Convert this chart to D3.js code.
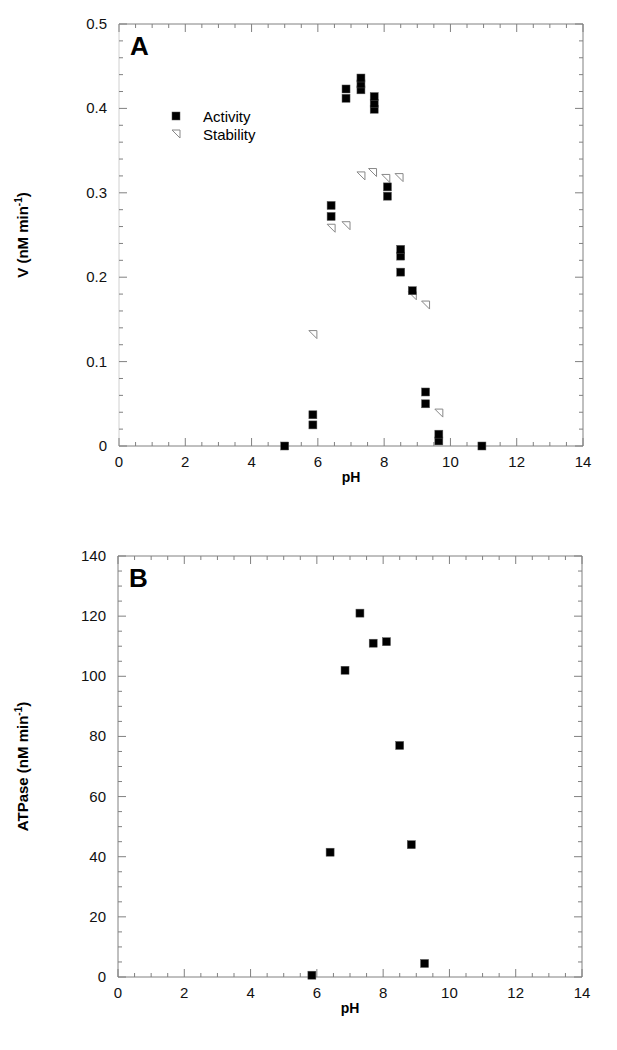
<!DOCTYPE html>
<html>
<head>
<meta charset="utf-8">
<script src="https://cdn.jsdelivr.net/npm/d3@7"></script>
<style>
  body { margin: 0; background: #fff; }
  svg { font-family: "Liberation Sans", Arial, sans-serif; }
</style>
</head>
<body>
<div id="chart"></div>
<script>
// panel A - activity (black squares)
const actPH = [5.0, 5.85, 5.85, 6.4, 6.4, 6.85, 6.85, 7.3, 7.3, 7.3, 7.7, 7.7, 7.7,
  8.1, 8.1, 8.5, 8.5, 8.5, 8.85, 9.25, 9.25, 9.65, 9.65, 10.95];
const actV = [0, 0.025, 0.037, 0.272, 0.285, 0.412, 0.423, 0.422, 0.429, 0.436, 0.399, 0.406, 0.414,
  0.296, 0.307, 0.206, 0.225, 0.233, 0.184, 0.050, 0.064, 0.006, 0.014, 0];

// panel A - stability (open triangles)
const stabPH = [5.85, 6.4, 6.85, 7.3, 7.65, 8.05, 8.45, 8.85, 9.25, 9.65];
const stabV = [0.132, 0.258, 0.261, 0.320, 0.324, 0.317, 0.318, 0.178, 0.167, 0.039];

// panel B - ATPase
const atpPH = [5.85, 6.4, 6.85, 7.3, 7.7, 8.1, 8.5, 8.85, 9.25];
const atpV = [0.6, 41.5, 102, 121, 111, 111.5, 77, 44, 4.5];

const xTicks = [0, 2, 4, 6, 8, 10, 12, 14];
const yTicksA = [0, 0.1, 0.2, 0.3, 0.4, 0.5];
const yTicksB = [0, 20, 40, 60, 80, 100, 120, 140];

const W = 617, H = 1050;
const axisColor = "#808080";

const svg = d3.select("#chart").append("svg")
  .attr("width", W).attr("height", H);

function panel(opt) {
  const x = d3.scaleLinear().domain([0, 14]).range(opt.xr);
  const y = d3.scaleLinear().domain(opt.yd).range(opt.yr);
  const g = svg.append("g");

  const x0 = opt.xr[0], x1 = opt.xr[1], y0 = opt.yr[0], y1 = opt.yr[1];

  // frame
  g.append("line").attr("x1", x0).attr("x2", x1).attr("y1", y0).attr("y2", y0)
    .attr("stroke", axisColor);
  g.append("line").attr("x1", x0).attr("x2", x1).attr("y1", y1).attr("y2", y1)
    .attr("stroke", axisColor);
  g.append("line").attr("x1", x1).attr("x2", x1).attr("y1", y0).attr("y2", y1)
    .attr("stroke", axisColor);
  g.append("line").attr("x1", x0).attr("x2", x0).attr("y1", y0).attr("y2", y1)
    .attr("stroke", opt.leftColor || axisColor);

  // ticks, all pointing inward
  const xMinor = d3.range(0, 14.01, 0.5);
  xMinor.forEach(v => {
    const major = xTicks.includes(v);
    const len = major ? 8 : 4;
    [[y0, -1], [y1, 1]].forEach(([yy, dir]) => {
      g.append("line").attr("x1", x(v)).attr("x2", x(v))
        .attr("y1", yy).attr("y2", yy + dir * len)
        .attr("stroke", axisColor);
    });
  });
  const yMinor = d3.range(opt.yd[0], opt.yd[1] + opt.yStep / 2, opt.yStep);
  yMinor.forEach(v => {
    const major = opt.yTicks.some(t => Math.abs(t - v) < opt.yStep / 10);
    const len = major ? 8 : 4;
    [[x0, 1], [x1, -1]].forEach(([xx, dir]) => {
      g.append("line").attr("x1", xx).attr("x2", xx + dir * len)
        .attr("y1", y(v)).attr("y2", y(v))
        .attr("stroke", axisColor);
    });
  });

  // tick labels
  g.selectAll(".xl").data(xTicks).enter().append("text")
    .attr("x", d => x(d)).attr("y", y0 + 21)
    .attr("text-anchor", "middle").attr("font-size", 15).attr("fill", "#111")
    .text(d => d);
  g.selectAll(".yl").data(opt.yTicks).enter().append("text")
    .attr("x", x0 - 12).attr("y", d => y(d) + 5)
    .attr("text-anchor", "end").attr("font-size", 15).attr("fill", "#111")
    .text(d => d);

  // axis titles
  g.append("text").attr("x", (x0 + x1) / 2).attr("y", y0 + 36)
    .attr("text-anchor", "middle").attr("font-size", 14).attr("font-weight", "bold")
    .text("pH");
  const yt = g.append("text")
    .attr("transform", `translate(28,${(y0 + y1) / 2}) rotate(-90)`)
    .attr("text-anchor", "middle").attr("font-size", 15).attr("font-weight", "bold");
  yt.append("tspan").text(opt.yTitle + " (nM min");
  yt.append("tspan").attr("font-size", 10).attr("dy", -6).text("-1");
  yt.append("tspan").attr("dy", 6).text(")");

  // panel letter
  g.append("text").attr("x", x0 + 11).attr("y", y1 + 31)
    .attr("font-size", 26).attr("font-weight", "bold").text(opt.letter);

  return { g, x, y };
}

function square(g, cx, cy) {
  g.append("rect").attr("x", cx - 4).attr("y", cy - 4)
    .attr("width", 8).attr("height", 8)
    .attr("fill", "#000").attr("stroke", "#555").attr("stroke-width", 0.5);
}

function triangle(g, cx, cy) {
  const s = 4;
  g.append("path")
    .attr("d", `M${cx - s},${cy - s}L${cx + s},${cy - s}L${cx + s},${cy + s}Z`)
    .attr("fill", "#fff").attr("stroke", "#888").attr("stroke-width", 1);
}

// Panel A
const A = panel({
  xr: [119, 583], yd: [0, 0.5], yr: [446, 24], yStep: 0.02,
  yTicks: yTicksA, yTitle: "V", letter: "A", leftColor: "#d0d0d0"
});
stabPH.forEach((p, i) => triangle(A.g, A.x(p), A.y(stabV[i])));
actPH.forEach((p, i) => square(A.g, A.x(p), A.y(actV[i])));

// legend
square(A.g, 176, 116);
triangle(A.g, 176, 134);
A.g.append("text").attr("x", 203).attr("y", 122).attr("font-size", 15).text("Activity");
A.g.append("text").attr("x", 203).attr("y", 140).attr("font-size", 15).text("Stability");

// Panel B
const B = panel({
  xr: [118, 582], yd: [0, 140], yr: [977, 556], yStep: 5,
  yTicks: yTicksB, yTitle: "ATPase", letter: "B"
});
atpPH.forEach((p, i) => square(B.g, B.x(p), B.y(atpV[i])));
</script>
</body>
</html>
